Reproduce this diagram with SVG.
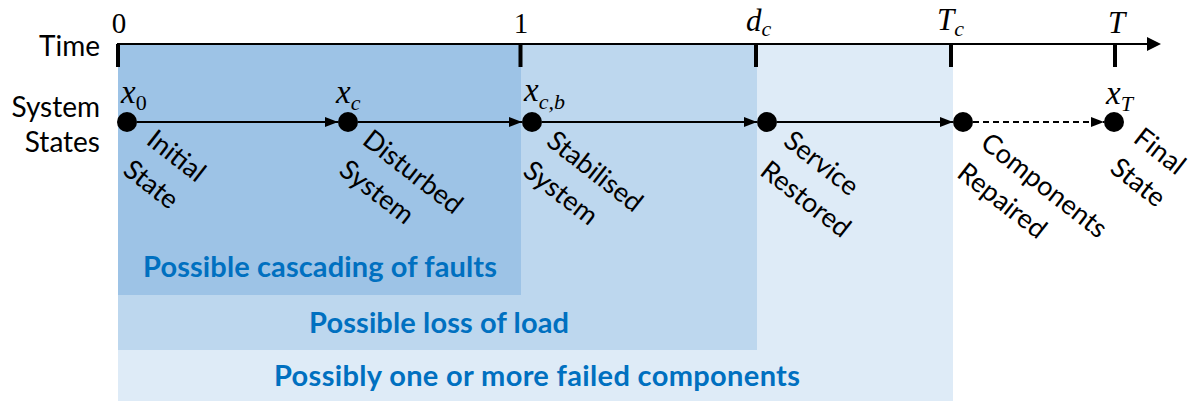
<svg xmlns="http://www.w3.org/2000/svg" width="1196" height="401" viewBox="0 0 1196 401">
<style>
.lbl{font-family:Lato,"Liberation Sans",sans-serif;font-size:28px;fill:#000}
.rot{font-family:Lato,"Liberation Sans",sans-serif;font-size:27px;fill:#000}
.blue{font-family:Lato,"Liberation Sans",sans-serif;font-size:29px;font-weight:bold;fill:#0070C0;text-anchor:middle}
.math{font-family:"Liberation Serif","DejaVu Serif",serif;fill:#000}
.it{font-style:italic}
.tick{stroke:#000;stroke-width:4}
.conn{stroke:#000;stroke-width:2;fill:none;marker-end:url(#ah)}
.node{fill:#000}
</style>
<defs>
<marker id="ah" markerWidth="13" markerHeight="10" refX="13" refY="5" orient="auto" markerUnits="userSpaceOnUse"><path d="M0,0 L13,5 L0,10 z" fill="#000"/></marker>
</defs>
<rect width="1196" height="401" fill="#fff"/>
<g id="bands">
<rect x="118" y="44" width="835" height="357" fill="#DEEBF7"/>
<rect x="118" y="44" width="639" height="306" fill="#BDD7EE"/>
<rect x="118" y="44" width="403" height="251" fill="#9DC3E6"/>
<text class="blue" x="320" y="277" textLength="354">Possible cascading of faults</text>
<text class="blue" x="439" y="333" textLength="260">Possible loss of load</text>
<text class="blue" x="537" y="386" textLength="526">Possibly one or more failed components</text>
</g>
<g id="time-axis">
<line x1="117" y1="44" x2="1149" y2="44" stroke="#000" stroke-width="2"/>
<path d="M1147,37 L1161,44 L1147,51 z" fill="#000"/>
<line class="tick" x1="118" y1="44" x2="118" y2="67"/>
<line class="tick" x1="520.5" y1="44" x2="520.5" y2="67"/>
<line class="tick" x1="756" y1="44" x2="756" y2="67"/>
<line class="tick" x1="951" y1="44" x2="951" y2="67"/>
<line class="tick" x1="1115" y1="44" x2="1115" y2="67"/>
<text class="math" x="119" y="33" font-size="29" text-anchor="middle">0</text>
<text class="math" x="521" y="33" font-size="29" text-anchor="middle">1</text>
<text class="math it" x="746" y="31" font-size="31">d<tspan font-size="22" dy="5">c</tspan></text>
<text class="math it" x="937" y="30" font-size="31">T<tspan font-size="22" dy="6">c</tspan></text>
<text class="math it" x="1108" y="33" font-size="31">T</text>
</g>
<g id="row-labels">
<text class="lbl" x="100" y="56" text-anchor="end">Time</text>
<text class="lbl" x="100" y="117" text-anchor="end">System</text>
<text class="lbl" x="100" y="152" text-anchor="end">States</text>
</g>
<g id="connectors">
<line class="conn" x1="137" y1="122" x2="338" y2="122"/>
<line class="conn" x1="358" y1="122" x2="522" y2="122"/>
<line class="conn" x1="542" y1="122" x2="757" y2="122"/>
<line class="conn" x1="777" y1="122" x2="953" y2="122"/>
<line class="conn" x1="973" y1="122" x2="1104" y2="122" stroke-dasharray="6 4"/>
</g>
<g id="node-x0">
<circle class="node" cx="127" cy="122" r="10"/>
<text class="math it" x="121" y="103" font-size="33">x<tspan font-style="normal" font-size="22" dy="7">0</tspan></text>
<text class="rot" transform="translate(145,143) rotate(38)"><tspan x="0" y="0">Initial</tspan><tspan x="0" y="38">State</tspan></text>
</g>
<g id="node-xc">
<circle class="node" cx="348" cy="122" r="10"/>
<text class="math it" x="336" y="103" font-size="33">x<tspan font-size="22" dy="7">c</tspan></text>
<text class="rot" transform="translate(361,143) rotate(38)"><tspan x="0" y="0">Disturbed</tspan><tspan x="0" y="38">System</tspan></text>
</g>
<g id="node-xcb">
<circle class="node" cx="532" cy="122" r="10"/>
<text class="math it" x="524" y="101" font-size="33">x<tspan font-size="22" dy="8">c,b</tspan></text>
<text class="rot" transform="translate(545,144) rotate(38)"><tspan x="0" y="0">Stabilised</tspan><tspan x="0" y="38">System</tspan></text>
</g>
<g id="node-service">
<circle class="node" cx="767" cy="122" r="10"/>
<text class="rot" transform="translate(782,144) rotate(38)"><tspan x="0" y="0">Service</tspan><tspan x="0" y="38">Restored</tspan></text>
</g>
<g id="node-repaired">
<circle class="node" cx="963" cy="122" r="10"/>
<text class="rot" transform="translate(979,146) rotate(38)"><tspan x="0" y="0">Components</tspan><tspan x="0" y="38">Repaired</tspan></text>
</g>
<g id="node-xT">
<circle class="node" cx="1114" cy="122" r="10"/>
<text class="math it" x="1106" y="104" font-size="33">x<tspan font-size="22" dy="7">T</tspan></text>
<text class="rot" transform="translate(1132,141) rotate(38)"><tspan x="0" y="0">Final</tspan><tspan x="0" y="38">State</tspan></text>
</g>
</svg>
